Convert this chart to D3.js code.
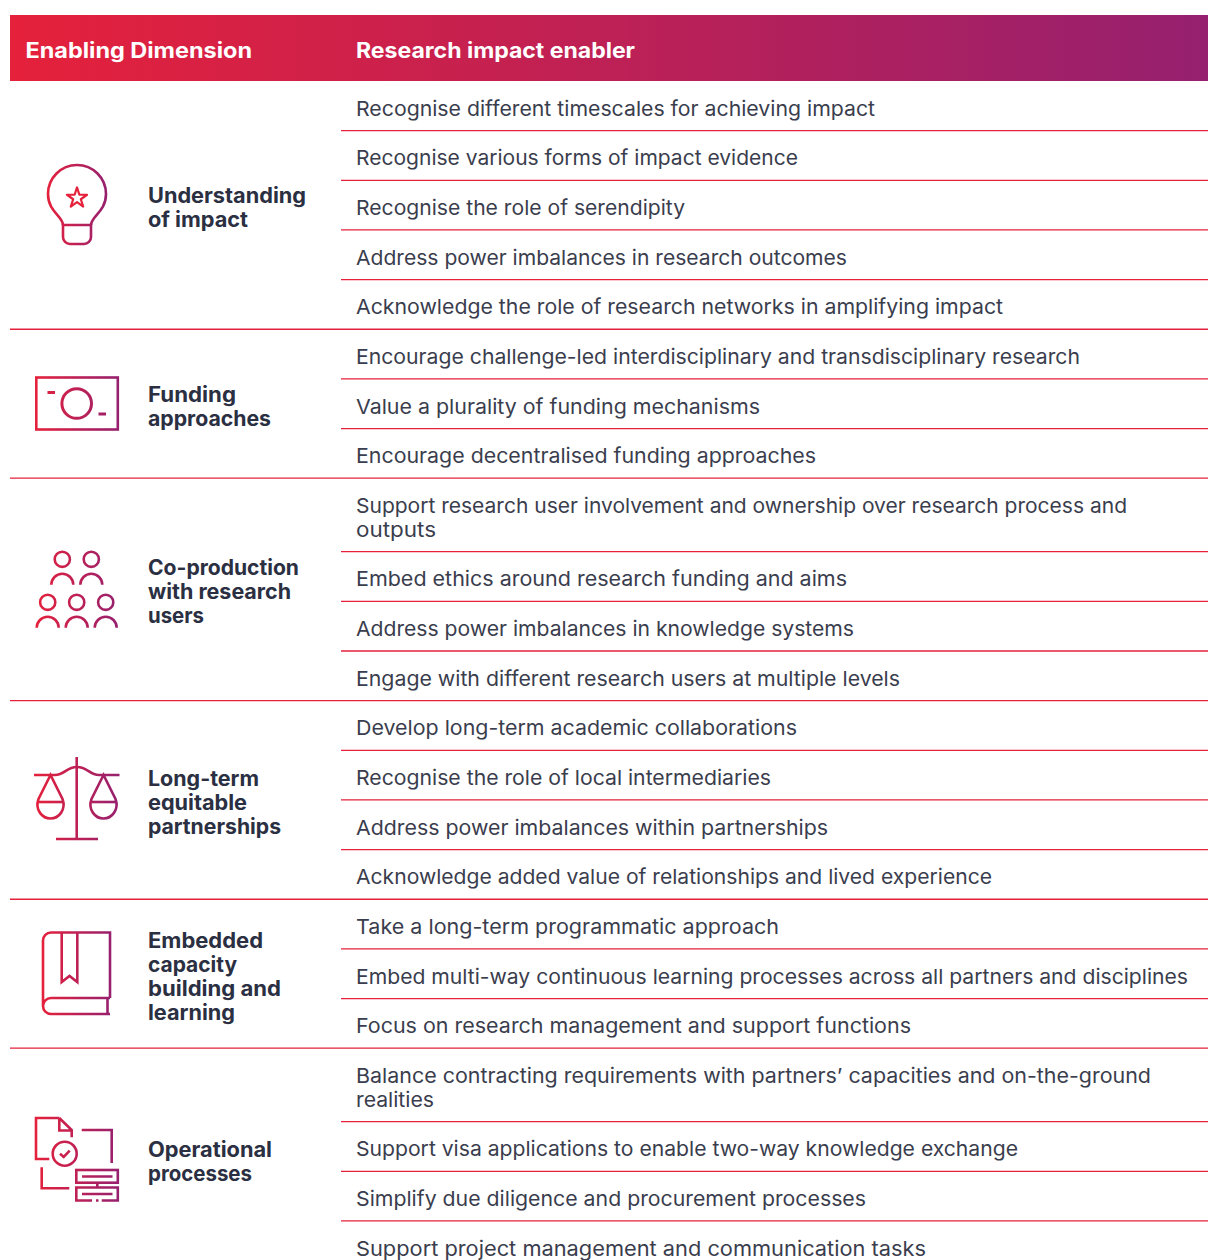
<!DOCTYPE html>
<html>
<head>
<meta charset="utf-8">
<script src="https://cdn.jsdelivr.net/npm/d3@7"></script>
<style>
  html, body { margin: 0; padding: 0; background: #fff; overflow: hidden; }
  text { font-family: Inter, "Noto Sans", sans-serif; }
</style>
</head>
<body>
<svg id="chart"></svg>
<script>
// Table data
const headers = ["Enabling Dimension", "Research impact enabler"];

const understanding = [
  ["Recognise different timescales for achieving impact"],
  ["Recognise various forms of impact evidence"],
  ["Recognise the role of serendipity"],
  ["Address power imbalances in research outcomes"],
  ["Acknowledge the role of research networks in amplifying impact"]
];
const funding = [
  ["Encourage challenge-led interdisciplinary and transdisciplinary research"],
  ["Value a plurality of funding mechanisms"],
  ["Encourage decentralised funding approaches"]
];
const coproduction = [
  ["Support research user involvement and ownership over research process and", "outputs"],
  ["Embed ethics around research funding and aims"],
  ["Address power imbalances in knowledge systems"],
  ["Engage with different research users at multiple levels"]
];
const partnerships = [
  ["Develop long-term academic collaborations"],
  ["Recognise the role of local intermediaries"],
  ["Address power imbalances within partnerships"],
  ["Acknowledge added value of relationships and lived experience"]
];
const capacity = [
  ["Take a long-term programmatic approach"],
  ["Embed multi-way continuous learning processes across all partners and disciplines"],
  ["Focus on research management and support functions"]
];
const operational = [
  ["Balance contracting requirements with partners\u2019 capacities and on-the-ground", "realities"],
  ["Support visa applications to enable two-way knowledge exchange"],
  ["Simplify due diligence and procurement processes"],
  ["Support project management and communication tasks"]
];

const dimensionLabels = [
  ["Understanding", "of impact"],
  ["Funding", "approaches"],
  ["Co-production", "with research", "users"],
  ["Long-term", "equitable", "partnerships"],
  ["Embedded", "capacity", "building and", "learning"],
  ["Operational", "processes"]
];
const dimensionRows = [understanding, funding, coproduction, partnerships, capacity, operational];

// layout only: where each text line ends in the reference (the original font isn't installed)
const headerEnds = [252, 635];
const enablerEnds = [875, 798, 685, 847, 1003, 1080, 760, 816, 1127, 436, 847, 854, 900,
  797, 771, 828, 992, 779, 1188, 911, 1151, 434, 1018, 866, 926];
const labelEnds = [306, 248, 236, 271, 299, 291, 204, 259, 247, 281, 263, 237, 281, 235, 272, 252];

const width = 1208, height = 1260;
const red = "#e5213b", purple = "#96206f";
const rowUnit = 49.65, lineHeight = 24, twoLineExtra = 0.48;

const svg = d3.select("#chart").attr("width", width).attr("height", height);
const defs = svg.append("defs");

function gradient(id, x1, x2) {
  const g = defs.append("linearGradient").attr("id", id)
    .attr("gradientUnits", "userSpaceOnUse")
    .attr("x1", x1).attr("x2", x2).attr("y1", 0).attr("y2", 0);
  g.append("stop").attr("offset", 0).attr("stop-color", red);
  g.append("stop").attr("offset", 1).attr("stop-color", purple);
}
gradient("headGrad", 10, 1208);

function fit(sel, x, end) {
  sel.attr("x", x).attr("textLength", end - x).attr("lengthAdjust", "spacingAndGlyphs");
}

// header band
svg.append("rect").attr("x", 10).attr("y", 15).attr("width", 1198).attr("height", 66)
  .attr("fill", "url(#headGrad)");
headers.forEach((h, i) => {
  svg.append("text")
    .attr("class", "head")
    .attr("y", 58)
    .attr("fill", "#fff")
    .attr("font-size", 20.8)
    .attr("font-weight", 700)
    .text(h)
    .call(fit, i ? 356 : 25.5, headerEnds[i]);
});

// row positions come from a linear scale over row "units"
const y = d3.scaleLinear().domain([0, 1]).range([81, 81 + rowUnit]);
let cursor = 0, endIndex = 0;
const groupBoxes = [];

dimensionRows.forEach((rows, gi) => {
  const start = cursor;
  rows.forEach((lines, ri) => {
    const units = lines.length > 1 ? 1 + twoLineExtra : 1;
    const top = y(cursor), bottom = y(cursor + units);
    const isLast = ri === rows.length - 1;
    lines.forEach((t, li) => {
      svg.append("text").attr("class", "enabler")
        .attr("y", top + 34.8 + li * lineHeight)
        .attr("fill", "#3a3d4d")
        .attr("font-size", 20.4)
        .text(t)
        .call(fit, 356, enablerEnds[endIndex++]);
    });
    if (!(gi === dimensionRows.length - 1 && isLast)) {
      svg.append("line")
        .attr("x1", isLast ? 10 : 341).attr("x2", width)
        .attr("y1", bottom).attr("y2", bottom)
        .attr("stroke", red).attr("stroke-width", 1.3);
    }
    cursor += units;
  });
  groupBoxes.push([y(start), y(cursor)]);
});

// dimension labels, centred on their group
let labelIndex = 0;
dimensionLabels.forEach((lines, i) => {
  const mid = (groupBoxes[i][0] + groupBoxes[i][1]) / 2;
  const first = mid + 9.8 - (lines.length - 1) * lineHeight / 2;
  lines.forEach((t, j) => {
    svg.append("text")
      .attr("class", "dim")
      .attr("y", first + j * lineHeight)
      .attr("fill", "#2b2f42")
      .attr("font-size", 20.8)
      .attr("font-weight", 700)
      .text(t)
      .call(fit, 148, labelEnds[labelIndex++]);
  });
});

// icons
function icon(id, x1, x2) {
  gradient(id, x1, x2);
  return svg.append("g")
    .attr("fill", "none")
    .attr("stroke", `url(#${id})`)
    .attr("stroke-width", 2.6);
}

// bulb
const bulb = icon("g0", 47, 107);
bulb.append("path").attr("d", "M63,225C63,216 48,212 48,194A29,29 0 1 1 106,194C106,212 91,216 91,225");
bulb.append("path").attr("d", "M63,225H91V237a7,7 0 0 1 -7,7H70a7,7 0 0 1 -7,-7Z");
gradient("g0s", 65, 89);
bulb.append("path")
  .attr("d", d3.symbol(d3.symbolStar, 125)())
  .attr("transform", "translate(77,198)")
  .attr("stroke", "url(#g0s)")
  .attr("stroke-width", 2.2)
  .attr("stroke-linejoin", "round");

// banknote
const note = icon("g1", 35, 119);
note.append("rect").attr("x", 36.3).attr("y", 377.5).attr("width", 81.5).attr("height", 52);
note.append("circle").attr("cx", 76.7).attr("cy", 403.5).attr("r", 14.8).attr("stroke-width", 3);
note.append("path").attr("stroke-width", 3).attr("d", "M47.5,392.5H55M98.5,414H106");

// people
const people = icon("g2", 36, 118);
[[62.3, 559.3], [91.3, 559.3], [47.7, 602.3], [76.7, 602.3], [105.7, 602.3]].forEach(p => {
  people.append("circle").attr("cx", p[0]).attr("cy", p[1]).attr("r", 7.6);
  people.append("path").attr("d", `M${p[0] - 11},${p[1] + 25.5}a11,11 0 0 1 22,0`);
});

// scales
const scales = icon("g3", 34, 119);
scales.append("path").attr("d", "M76.7,757V839M56,839H98");
scales.append("path").attr("d", "M34,775H55C65,775 66,767 77,767C88,767 89,775 99,775H119.5");
[50.5, 103.5].forEach(cx => {
  scales.append("path").attr("d",
    `M${cx},775L${cx - 12},799C${cx - 16},810 ${cx - 8},818.5 ${cx},818.5C${cx + 8},818.5 ${cx + 16},810 ${cx + 12},799Z`);
  scales.append("path").attr("d", `M${cx - 13},802H${cx + 13}`);
});

// book
const book = icon("g4", 42, 112);
book.append("path").attr("d", "M110,998V932.5H51a8,8 0 0 0 -8,8V1006a8,8 0 0 0 8,8H110M110,998H51a8,8 0 0 0 -8,8M107.5,999V1014");
book.append("path").attr("d", "M61.7,932.5V982L69.5,976L77.3,982V932.5");

// processes
const ops = icon("g5", 35, 119);
ops.append("path").attr("d", "M59.3,1118H36V1159H49.3M59.3,1118L71.7,1130V1137.3M59.3,1118V1130.5H71.7");
ops.append("circle").attr("cx", 64.7).attr("cy", 1153.7).attr("r", 12);
ops.append("path").attr("d", "M60,1153.7L63.7,1157L69.7,1150.7");
ops.append("path").attr("d", "M81.7,1130H111.7V1163M41.7,1167.3V1188.3H69.3");
ops.append("rect").attr("x", 76.3).attr("y", 1170).attr("width", 41.5).attr("height", 12.7);
ops.append("path").attr("d", "M82,1176.5H112.5M97.3,1182.7V1187.3M92,1200.5H76.3V1187.5H117.8V1200.5H101.7M96,1200.5H98.5M82,1194H112.5");
</script>
</body>
</html>
